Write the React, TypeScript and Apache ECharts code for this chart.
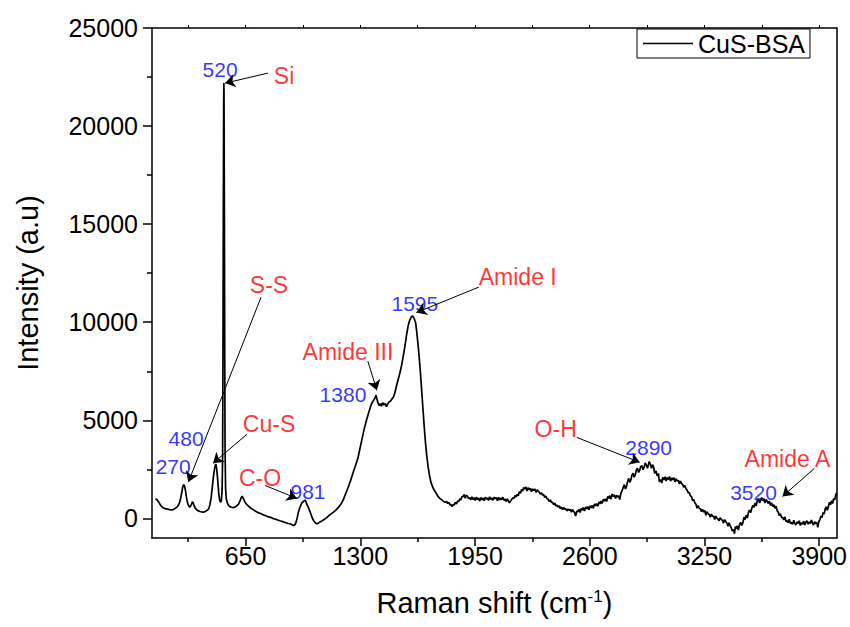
import React, { useEffect, useRef } from 'react';
import * as echarts from 'echarts';

const seriesName = 'CuS-BSA';

// [Raman shift (cm-1), intensity (a.u)]
const spectrum: [number, number][] = [
  [140, 1000], [150, 940], [160, 800], [170, 650], [180, 560], [190, 510], [200, 480], [210, 470],
  [220, 440], [230, 430], [240, 450], [250, 500], [260, 560], [268, 650], [276, 800], [283, 1050],
  [289, 1350], [294, 1600], [299, 1720], [304, 1660], [309, 1450], [314, 1150], [319, 880], [325, 700],
  [331, 590], [337, 600], [343, 700], [348, 840], [353, 800], [358, 660], [365, 520], [373, 440],
  [382, 380], [392, 350], [402, 330], [412, 320], [422, 350], [432, 410], [441, 480], [448, 700],
  [455, 1050], [461, 1550], [467, 2050], [473, 2450], [478, 2700], [482, 2760], [486, 2550], [490, 2200],
  [494, 1750], [498, 1300], [503, 950], [508, 820], [513, 900], [517, 1400], [520, 3000], [522, 8000],
  [524, 15500], [526, 21000], [527, 22200], [528, 21800], [530, 16000], [532, 8500], [534, 3500], [537, 1500],
  [541, 1000], [547, 780], [555, 650], [565, 580], [578, 550], [590, 570], [600, 640], [610, 730],
  [618, 880], [625, 1050], [631, 1130], [637, 1020], [644, 880], [652, 760], [660, 680], [670, 600],
  [680, 520], [690, 470], [700, 400], [712, 340], [724, 280], [736, 250], [748, 190], [760, 150],
  [772, 110], [784, 60], [796, 40], [808, -20], [820, -40], [832, -80], [844, -120], [856, -150],
  [868, -190], [880, -220], [892, -260], [904, -280], [914, -330], [922, -360], [930, -320], [937, -180],
  [943, 50], [949, 300], [955, 480], [962, 650], [970, 800], [978, 860], [986, 930], [992, 860],
  [998, 700], [1005, 580], [1012, 420], [1020, 220], [1028, 20], [1036, -120], [1045, -220], [1054, -280],
  [1064, -230], [1075, -170], [1086, -110], [1098, -40], [1110, 40], [1122, 140], [1135, 230], [1148, 320],
  [1162, 420], [1176, 560], [1190, 720], [1204, 950], [1218, 1280], [1232, 1600], [1246, 1950], [1260, 2350],
  [1273, 2700], [1286, 3050], [1298, 3550], [1310, 4050], [1322, 4550], [1335, 5000], [1348, 5400], [1360, 5750],
  [1370, 5950], [1378, 6050], [1384, 6150], [1389, 6280], [1394, 6100], [1400, 5900], [1407, 5750], [1414, 5850],
  [1420, 5720], [1427, 5900], [1434, 5780], [1441, 5850], [1448, 5700], [1456, 5850], [1464, 5950], [1472, 5980],
  [1480, 6100], [1488, 6180], [1496, 6400], [1505, 6750], [1514, 7050], [1524, 7400], [1534, 7800], [1544, 8300],
  [1554, 8850], [1563, 9400], [1572, 9850], [1580, 10100], [1588, 10250], [1594, 10320], [1600, 10280], [1607, 10150],
  [1614, 9950], [1620, 9500], [1627, 8900], [1634, 8200], [1641, 7400], [1648, 6500], [1655, 5600], [1662, 4700],
  [1669, 3900], [1676, 3250], [1684, 2650], [1692, 2200], [1700, 1850], [1710, 1600], [1720, 1420], [1730, 1280],
  [1740, 1130], [1750, 1020], [1760, 960], [1770, 880], [1780, 820],
  [1789, 860], [1795, 760], [1802, 820], [1808, 680], [1814, 720], [1820, 600], [1826, 700], [1832, 680],
  [1838, 820], [1845, 740], [1851, 880], [1858, 860], [1864, 1000], [1870, 940], [1876, 1120], [1882, 1100],
  [1889, 1220], [1895, 1030], [1901, 1180], [1908, 1120], [1914, 1000], [1920, 1060], [1926, 940], [1932, 1100],
  [1939, 960], [1945, 1060], [1951, 920], [1958, 1080], [1964, 960], [1970, 1040], [1976, 880], [1983, 1060],
  [1989, 940], [1996, 1040], [2002, 900], [2008, 1080], [2014, 980], [2020, 1040], [2027, 920], [2033, 1100],
  [2039, 960], [2045, 1040], [2052, 920], [2058, 1080], [2064, 1000], [2070, 1060], [2077, 900], [2083, 1080],
  [2089, 940], [2096, 1040], [2102, 960], [2108, 1080], [2114, 920], [2120, 980], [2127, 860], [2133, 1000],
  [2139, 880], [2145, 800], [2152, 900], [2158, 960], [2164, 1060], [2170, 1000], [2177, 1160], [2183, 1100],
  [2189, 1220], [2195, 1150], [2201, 1360], [2208, 1280], [2214, 1480], [2220, 1400], [2226, 1580], [2232, 1500],
  [2239, 1600], [2245, 1400], [2251, 1560], [2258, 1460], [2264, 1540], [2270, 1360], [2277, 1500], [2283, 1420],
  [2289, 1500], [2296, 1320], [2302, 1460], [2308, 1380], [2314, 1340], [2320, 1240], [2327, 1300], [2333, 1180],
  [2339, 1220], [2345, 1060], [2352, 1140], [2358, 1000], [2364, 980], [2370, 860], [2377, 940], [2383, 820],
  [2389, 820], [2396, 700], [2402, 780], [2408, 640], [2414, 680], [2420, 580], [2427, 640], [2433, 500],
  [2439, 580], [2446, 440], [2452, 560], [2458, 460], [2464, 500], [2470, 380], [2477, 480], [2483, 400],
  [2489, 460], [2496, 320], [2502, 450], [2508, 360], [2514, 300], [2520, 120], [2527, 380], [2533, 340],
  [2539, 460], [2546, 300], [2552, 500], [2558, 420], [2564, 560], [2570, 380], [2577, 580], [2583, 480],
  [2589, 600], [2596, 440], [2602, 640], [2608, 540], [2614, 660], [2620, 520], [2627, 740], [2633, 640],
  [2639, 760], [2646, 620], [2652, 840], [2658, 740], [2664, 880], [2670, 760], [2677, 980], [2683, 880],
  [2689, 1000], [2696, 860], [2702, 1120], [2708, 1020], [2714, 1160], [2720, 980], [2727, 1240], [2733, 1120],
  [2739, 1200], [2746, 1020], [2752, 1180], [2758, 1080], [2764, 1160], [2770, 960], [2777, 1300], [2783, 1400],
  [2789, 1560], [2796, 1720], [2802, 1500], [2808, 1620], [2814, 1860], [2820, 2040], [2827, 1840], [2833, 1960],
  [2839, 2200], [2846, 2300], [2852, 2100], [2858, 2220], [2864, 2460], [2870, 2560], [2877, 2340], [2883, 2450],
  [2889, 2640], [2896, 2680], [2902, 2480], [2908, 2600], [2914, 2820], [2920, 2740], [2927, 2560], [2932, 2720],
  [2937, 2900], [2943, 2760], [2950, 2560], [2956, 2740], [2962, 2620], [2968, 2300], [2975, 2420], [2983, 2160],
  [2989, 2280], [2995, 1860], [3002, 1980], [3008, 1800], [3014, 2100], [3020, 1960], [3027, 2120], [3033, 1900],
  [3039, 2080], [3046, 1980], [3052, 2140], [3058, 1900], [3064, 2060], [3070, 1960], [3077, 2080], [3083, 1860],
  [3089, 2020], [3096, 1900], [3102, 1940], [3108, 1760], [3114, 1900], [3120, 1780], [3127, 1720], [3133, 1580],
  [3139, 1680], [3146, 1500], [3152, 1440], [3158, 1300], [3164, 1320], [3170, 1160], [3177, 1100], [3183, 900],
  [3189, 960], [3196, 780], [3202, 720], [3208, 520], [3214, 660], [3220, 520], [3227, 480], [3233, 340],
  [3239, 460], [3246, 320], [3252, 400], [3258, 160], [3264, 340], [3270, 240], [3277, 200], [3283, 60],
  [3289, 220], [3296, 100], [3302, 120], [3308, -60], [3314, 120], [3320, 20], [3327, -40], [3333, -120],
  [3339, 40], [3346, -60], [3352, -100], [3358, -240], [3364, -60], [3370, -160], [3377, -240], [3383, -400],
  [3389, -220], [3396, -380], [3402, -480], [3408, -640], [3414, -560], [3420, -780], [3425, -420], [3430, -520],
  [3436, -380], [3442, -600], [3449, -300], [3455, -200], [3461, -360], [3468, -220], [3474, 60], [3480, -60],
  [3487, 160], [3493, 20], [3499, 300], [3505, 420], [3512, 300], [3518, 520], [3524, 660], [3530, 560],
  [3537, 780], [3543, 640], [3549, 900], [3556, 1000], [3562, 780], [3568, 940], [3574, 1060], [3580, 900],
  [3587, 1000], [3593, 780], [3599, 960], [3606, 860], [3612, 760], [3618, 880], [3624, 660], [3630, 800],
  [3637, 600], [3643, 700], [3649, 520], [3656, 620], [3662, 380], [3668, 320], [3674, 140], [3680, 240],
  [3687, 40], [3693, 60], [3699, -80], [3706, 80], [3712, -160], [3718, -120], [3724, -220], [3730, -40],
  [3737, -260], [3743, -200], [3749, -300], [3756, -100], [3762, -260], [3768, -340], [3774, -180], [3780, -260],
  [3787, -120], [3793, -360], [3799, -220], [3806, -300], [3812, -140], [3818, -340], [3824, -200], [3830, -120],
  [3837, -300], [3843, -180], [3849, -260], [3856, -80], [3862, -240], [3868, -340], [3874, -160], [3880, -280],
  [3886, -200], [3892, -460], [3898, -160], [3904, -60], [3910, 120], [3916, 40], [3922, 300], [3928, 220],
  [3934, 480], [3940, 580], [3946, 420], [3952, 600], [3958, 820], [3964, 700], [3970, 900], [3976, 760],
  [3982, 1020], [3988, 940], [3994, 1200], [3999, 1300],
];

const xMin = 120;
const xMax = 4000;
const yMin = -1000;
const yMax = 25000;
const xMajorTicks = [650, 1300, 1950, 2600, 3250, 3900];
const xMinorTicks = [325, 975, 1625, 2275, 2925, 3575];
const yMajorTicks = [0, 5000, 10000, 15000, 20000, 25000];
const yMinorTicks = [2500, 7500, 12500, 17500, 22500];

// peak position labels (blue) and band assignment labels (red), anchored in data coordinates
const peakTexts = ['520', '480', '270', '981', '1380', '1595', '2890', '3520'];
const peakTextAt: [number, number][] = [
  [506, 22900], [313, 4080], [240, 2650], [1004, 1380], [1202, 6330], [1609, 10970], [2934, 3620], [3528, 1330],
];
const bandTexts = ['Si', 'S-S', 'Cu-S', 'C-O', 'Amide III', 'Amide I', 'O-H', 'Amide A'];
const bandTextAt: [number, number][] = [
  [868, 22550], [783, 11890], [783, 4800], [732, 2040], [1230, 8470], [2192, 12300], [2407, 4540], [3720, 3010],
];
const arrowFrom: [number, number][] = [
  [777, 22700], [738, 11280], [658, 4290], [760, 1680], [1343, 8010], [1971, 11790], [2526, 4130], [3873, 2550],
];
const arrowTo: [number, number][] = [
  [534, 22190], [326, 1850], [466, 2810], [941, 1020], [1394, 6530], [1618, 10490], [2883, 2860], [3692, 1120],
];

const FONT = '"Liberation Sans", Arial, Helvetica, sans-serif';

export default function App() {
  const ref = useRef<HTMLDivElement>(null);

  useEffect(() => {
    if (!ref.current) return;
    const chart = echarts.init(ref.current, null, { renderer: 'svg' });
    const black = '#000';
    const axisLine = { show: true, onZero: false, lineStyle: { color: black, width: 1.5 } };
    const tickStyle = { color: black, width: 1.5 };
    const plain = (v: number) => String(v);

    const option: any = {
      animation: false,
      backgroundColor: '#fff',
      grid: { left: 152, right: 12, top: 28, bottom: 89, containLabel: false },
      legend: {
        data: [{ name: seriesName, icon: 'rect' }],
        left: 637,
        top: 29,
        borderColor: black,
        borderWidth: 1,
        padding: [2, 5, 2, 6],
        itemWidth: 50,
        itemHeight: 1.6,
        itemGap: 0,
        textStyle: { fontSize: 25, color: black, fontFamily: FONT },
      },
      xAxis: [
        {
          type: 'value', min: xMin, max: xMax, position: 'bottom',
          axisLine,
          axisTick: { show: true, inside: false, length: 8, customValues: xMajorTicks, lineStyle: tickStyle },
          axisLabel: { show: true, customValues: xMajorTicks, formatter: plain, fontSize: 25, color: black, fontFamily: FONT, margin: 5 },
          splitLine: { show: false },
          name: '{t|Raman shift (cm}{s|-1}{t|)}',
          nameLocation: 'middle',
          nameGap: 50,
          nameTextStyle: {
            fontSize: 29, color: black, fontFamily: FONT,
            rich: {
              t: { fontSize: 29, color: black, fontFamily: FONT },
              s: { fontSize: 17, color: black, fontFamily: FONT, verticalAlign: 'top' },
            },
          },
        },
        {
          type: 'value', min: xMin, max: xMax, position: 'bottom',
          axisLine: { show: false, onZero: false },
          axisTick: { show: true, inside: false, length: 4, customValues: xMinorTicks, lineStyle: tickStyle },
          axisLabel: { show: false },
          splitLine: { show: false },
        },
        {
          type: 'value', min: xMin, max: xMax, position: 'top',
          axisLine,
          axisTick: { show: true, inside: false, length: 3, customValues: [...xMajorTicks, ...xMinorTicks], lineStyle: { color: black, width: 1 } },
          axisLabel: { show: false },
          splitLine: { show: false },
        },
      ],
      yAxis: [
        {
          type: 'value', min: yMin, max: yMax, position: 'left',
          axisLine,
          axisTick: { show: true, inside: false, length: 9, customValues: yMajorTicks, lineStyle: tickStyle },
          axisLabel: { show: true, customValues: yMajorTicks, formatter: plain, fontSize: 25, color: black, fontFamily: FONT, margin: 14 },
          splitLine: { show: false },
          name: 'Intensity (a.u)',
          nameLocation: 'middle',
          nameRotate: 90,
          nameGap: 110,
          nameTextStyle: { fontSize: 29, color: black, fontFamily: FONT },
        },
        {
          type: 'value', min: yMin, max: yMax, position: 'left',
          axisLine: { show: false, onZero: false },
          axisTick: { show: true, inside: false, length: 5, customValues: yMinorTicks, lineStyle: tickStyle },
          axisLabel: { show: false },
          splitLine: { show: false },
        },
        {
          type: 'value', min: yMin, max: yMax, position: 'right',
          axisLine,
          axisTick: { show: false },
          axisLabel: { show: false },
          splitLine: { show: false },
        },
      ],
      series: [
        {
          name: seriesName,
          type: 'line',
          xAxisIndex: 0,
          yAxisIndex: 0,
          data: spectrum,
          symbol: 'none',
          showSymbol: false,
          lineStyle: { color: black, width: 1.7 },
          itemStyle: { color: black },
          silent: true,
          z: 3,
          markLine: {
            silent: true,
            symbol: ['none', 'arrow'],
            symbolSize: 10,
            label: { show: false },
            lineStyle: { color: black, width: 1, type: 'solid' },
            itemStyle: { color: black },
            emphasis: { disabled: true },
            data: arrowFrom.map((from, i) => [
              { coord: from },
              { coord: arrowTo[i] },
            ]),
          },
        },
        {
          name: 'peaks',
          type: 'scatter',
          xAxisIndex: 0,
          yAxisIndex: 0,
          symbolSize: 0,
          silent: true,
          itemStyle: { color: 'rgba(0,0,0,0)' },
          data: peakTexts.map((t, i) => ({ name: t, value: peakTextAt[i] })),
          label: {
            show: true, position: 'inside', formatter: '{b}',
            color: '#0000ff', fontSize: 21, fontFamily: FONT,
          },
          z: 4,
        },
        {
          name: 'bands',
          type: 'scatter',
          xAxisIndex: 0,
          yAxisIndex: 0,
          symbolSize: 0,
          silent: true,
          itemStyle: { color: 'rgba(0,0,0,0)' },
          data: bandTexts.map((t, i) => ({ name: t, value: bandTextAt[i] })),
          label: {
            show: true, position: 'inside', formatter: '{b}',
            color: '#ff0000', fontSize: 23, fontFamily: FONT,
          },
          z: 4,
        },
      ],
    };

    chart.setOption(option);
    return () => {
      chart.dispose();
    };
  }, []);

  return (
    <div
      ref={ref}
      style={{ position: 'fixed', left: 0, top: 0, width: 850, height: 627, background: '#fff' }}
    />
  );
}
